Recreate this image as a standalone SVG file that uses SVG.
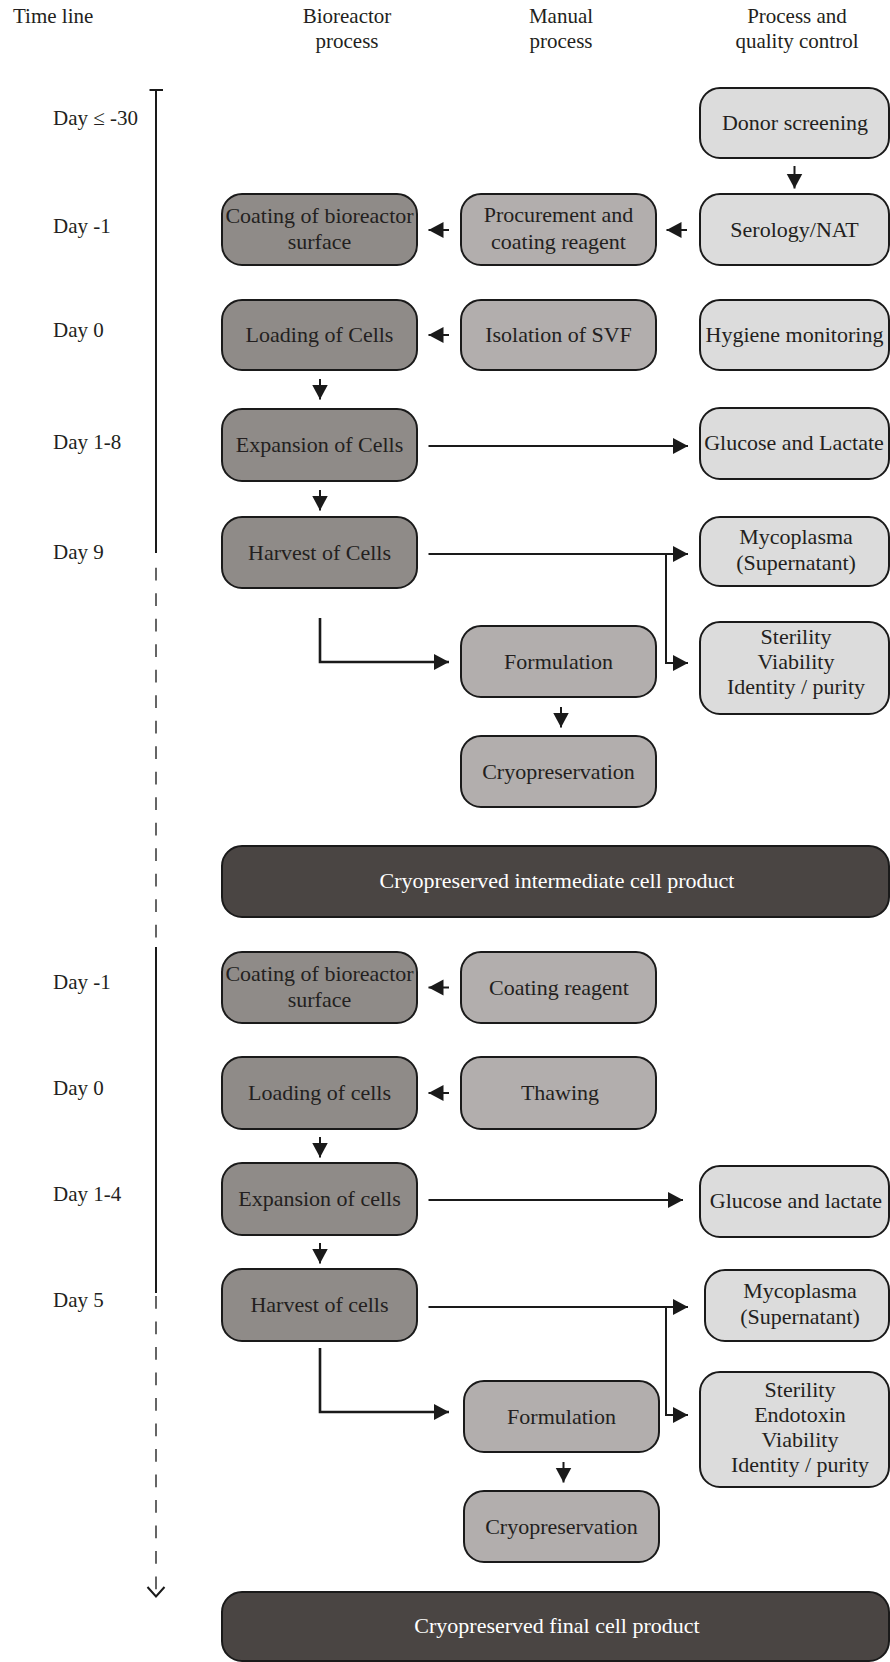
<svg xmlns="http://www.w3.org/2000/svg" width="890" height="1662" viewBox="0 0 890 1662">
<style>
text{font-family:"Liberation Serif","DejaVu Serif",serif;font-size:22px;fill:#231f20}
.hd{text-anchor:middle;font-size:21px}
.dy{font-size:21px}
.lb{text-anchor:middle}
.wt{fill:#ffffff;text-anchor:middle}
.bio{fill:#8f8b88;stroke:#1a1a1a;stroke-width:2}
.man{fill:#b2aead;stroke:#1a1a1a;stroke-width:2}
.qc{fill:#dcdcdc;stroke:#1a1a1a;stroke-width:2}
.prod{fill:#4a4543;stroke:#1a1a1a;stroke-width:2}
.c{fill:none;stroke:#1a1a1a;stroke-width:2}
.cw{fill:none;stroke:#1a1a1a;stroke-width:2.6}
.tl{fill:none;stroke:#1a1a1a;stroke-width:2}
.td{fill:none;stroke:#333;stroke-width:1.5;stroke-dasharray:12.7 12.8}
</style>
<defs>
<marker id="ah" markerUnits="userSpaceOnUse" markerWidth="16" markerHeight="17" refX="15" refY="8" orient="auto">
<path d="M0,0 L15,8 L0,16 Z" fill="#1a1a1a"/>
</marker>
</defs>

<g id="headers">
<text class="dy" x="13" y="23">Time line</text>
<text class="hd" x="347" y="23">Bioreactor</text>
<text class="hd" x="347" y="48">process</text>
<text class="hd" x="561" y="23">Manual</text>
<text class="hd" x="561" y="48">process</text>
<text class="hd" x="797" y="23">Process and</text>
<text class="hd" x="797" y="48">quality control</text>
</g>

<g id="timeline">
<line class="tl" x1="149.5" y1="90" x2="163" y2="90" stroke-width="2.6"/>
<line class="tl" x1="156" y1="89" x2="156" y2="553"/>
<line class="td" x1="156" y1="567.7" x2="156" y2="937.4"/>
<line class="tl" x1="156" y1="947" x2="156" y2="1293"/>
<line class="td" x1="156" y1="1296" x2="156" y2="1596"/>
<polyline class="tl" points="147.5,1587 156,1596.5 164.5,1587" stroke-width="2.6"/>
<text class="dy" x="53" y="124.5">Day ≤ -30</text>
<text class="dy" x="53" y="232.5">Day -1</text>
<text class="dy" x="53" y="337">Day 0</text>
<text class="dy" x="53" y="449">Day 1-8</text>
<text class="dy" x="53" y="558.5">Day 9</text>
<text class="dy" x="53" y="989">Day -1</text>
<text class="dy" x="53" y="1095">Day 0</text>
<text class="dy" x="53" y="1201">Day 1-4</text>
<text class="dy" x="53" y="1307">Day 5</text>
</g>

<g id="connectors">
<line class="c" x1="794.5" y1="166" x2="794.5" y2="188.5" marker-end="url(#ah)"/>
<line class="c" x1="449" y1="230" x2="428.5" y2="230" marker-end="url(#ah)"/>
<line class="c" x1="687" y1="230" x2="666.5" y2="230" marker-end="url(#ah)"/>
<line class="c" x1="449" y1="335" x2="428.5" y2="335" marker-end="url(#ah)"/>
<line class="c" x1="320" y1="379" x2="320" y2="399.5" marker-end="url(#ah)"/>
<line class="c" x1="428.5" y1="446" x2="688" y2="446" marker-end="url(#ah)"/>
<line class="c" x1="320" y1="490" x2="320" y2="510.5" marker-end="url(#ah)"/>
<line class="c" x1="428.5" y1="554" x2="688" y2="554" marker-end="url(#ah)"/>
<polyline class="c" points="666,554 666,663 688,663" marker-end="url(#ah)"/>
<polyline class="cw" points="320,618 320,662 449,662" marker-end="url(#ah)"/>
<line class="c" x1="561" y1="707" x2="561" y2="727.5" marker-end="url(#ah)"/>

<line class="c" x1="449" y1="987.5" x2="428.5" y2="987.5" marker-end="url(#ah)"/>
<line class="c" x1="449" y1="1093" x2="428.5" y2="1093" marker-end="url(#ah)"/>
<line class="c" x1="320" y1="1137" x2="320" y2="1157.5" marker-end="url(#ah)"/>
<line class="c" x1="428.5" y1="1200" x2="683" y2="1200" marker-end="url(#ah)"/>
<line class="c" x1="320" y1="1243" x2="320" y2="1263.5" marker-end="url(#ah)"/>
<line class="c" x1="428.5" y1="1307" x2="688" y2="1307" marker-end="url(#ah)"/>
<polyline class="c" points="666,1307 666,1415 688,1415" marker-end="url(#ah)"/>
<polyline class="cw" points="320,1348 320,1412 449,1412" marker-end="url(#ah)"/>
<line class="c" x1="563.5" y1="1462" x2="563.5" y2="1482.5" marker-end="url(#ah)"/>
</g>

<g id="n-donor"><rect class="qc" x="700" y="88" width="189" height="70" rx="20"/><text class="lb" x="795" y="130">Donor screening</text></g>
<g id="n-coat1"><rect class="bio" x="222" y="194" width="195" height="71" rx="20"/><text class="lb" x="319.5" y="223">Coating of bioreactor</text><text class="lb" x="319.5" y="249">surface</text></g>
<g id="n-proc"><rect class="man" x="461" y="194" width="195" height="71" rx="20"/><text class="lb" x="558.5" y="222">Procurement and</text><text class="lb" x="558.5" y="249">coating reagent</text></g>
<g id="n-sero"><rect class="qc" x="700" y="194" width="189" height="71" rx="20"/><text class="lb" x="794.5" y="236.5">Serology/NAT</text></g>
<g id="n-load1"><rect class="bio" x="222" y="300" width="195" height="70" rx="20"/><text class="lb" x="319.5" y="341.5">Loading of Cells</text></g>
<g id="n-svf"><rect class="man" x="461" y="300" width="195" height="70" rx="20"/><text class="lb" x="558.5" y="341.5">Isolation of SVF</text></g>
<g id="n-hyg"><rect class="qc" x="700" y="300" width="189" height="70" rx="20"/><text class="lb" x="794.5" y="341.5">Hygiene monitoring</text></g>
<g id="n-exp1"><rect class="bio" x="222" y="409" width="195" height="72" rx="20"/><text class="lb" x="319.5" y="452">Expansion of Cells</text></g>
<g id="n-glu1"><rect class="qc" x="700" y="408" width="189" height="71" rx="20"/><text class="lb" x="794" y="450">Glucose and Lactate</text></g>
<g id="n-harv1"><rect class="bio" x="222" y="517" width="195" height="71" rx="20"/><text class="lb" x="319.5" y="559.5">Harvest of Cells</text></g>
<g id="n-myco1"><rect class="qc" x="700" y="517" width="189" height="69" rx="20"/><text class="lb" x="796" y="544">Mycoplasma</text><text class="lb" x="796" y="570">(Supernatant)</text></g>
<g id="n-form1"><rect class="man" x="461" y="626" width="195" height="71" rx="20"/><text class="lb" x="558.5" y="668.5">Formulation</text></g>
<g id="n-ster1"><rect class="qc" x="700" y="622" width="189" height="92" rx="20"/><text class="lb" x="796" y="644">Sterility</text><text class="lb" x="796" y="669">Viability</text><text class="lb" x="796" y="694">Identity / purity</text></g>
<g id="n-cryo1"><rect class="man" x="461" y="736" width="195" height="71" rx="20"/><text class="lb" x="558.5" y="778.5">Cryopreservation</text></g>
<g id="n-inter"><rect class="prod" x="222" y="846" width="667" height="71" rx="20"/><text class="wt" x="557" y="888">Cryopreserved intermediate cell product</text></g>

<g id="n-coat2"><rect class="bio" x="222" y="952" width="195" height="71" rx="20"/><text class="lb" x="319.5" y="981">Coating of bioreactor</text><text class="lb" x="319.5" y="1007">surface</text></g>
<g id="n-creag"><rect class="man" x="461" y="952" width="195" height="71" rx="20"/><text class="lb" x="559" y="994.5">Coating reagent</text></g>
<g id="n-load2"><rect class="bio" x="222" y="1057" width="195" height="72" rx="20"/><text class="lb" x="319.5" y="1100">Loading of cells</text></g>
<g id="n-thaw"><rect class="man" x="461" y="1057" width="195" height="72" rx="20"/><text class="lb" x="560" y="1100">Thawing</text></g>
<g id="n-exp2"><rect class="bio" x="222" y="1163" width="195" height="72" rx="20"/><text class="lb" x="319.5" y="1206">Expansion of cells</text></g>
<g id="n-glu2"><rect class="qc" x="700" y="1166" width="189" height="71" rx="20"/><text class="lb" x="796" y="1208">Glucose and lactate</text></g>
<g id="n-harv2"><rect class="bio" x="222" y="1269" width="195" height="72" rx="20"/><text class="lb" x="319.5" y="1312">Harvest of cells</text></g>
<g id="n-myco2"><rect class="qc" x="705" y="1270" width="184" height="71" rx="20"/><text class="lb" x="800" y="1298">Mycoplasma</text><text class="lb" x="800" y="1324">(Supernatant)</text></g>
<g id="n-form2"><rect class="man" x="464" y="1381" width="195" height="71" rx="20"/><text class="lb" x="561.5" y="1423.5">Formulation</text></g>
<g id="n-ster2"><rect class="qc" x="700" y="1372" width="189" height="115" rx="20"/><text class="lb" x="800" y="1397">Sterility</text><text class="lb" x="800" y="1422">Endotoxin</text><text class="lb" x="800" y="1447">Viability</text><text class="lb" x="800" y="1472">Identity / purity</text></g>
<g id="n-cryo2"><rect class="man" x="464" y="1491" width="195" height="71" rx="20"/><text class="lb" x="561.5" y="1533.5">Cryopreservation</text></g>
<g id="n-final"><rect class="prod" x="222" y="1592" width="667" height="69" rx="20"/><text class="wt" x="557" y="1633">Cryopreserved final cell product</text></g>
</svg>
